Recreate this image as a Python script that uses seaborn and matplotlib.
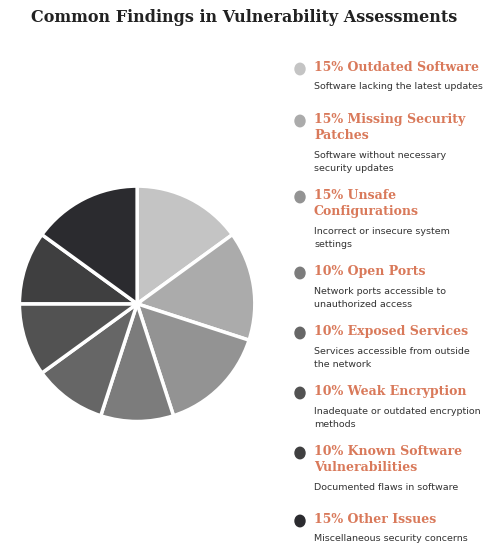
import matplotlib
matplotlib.use("Agg")
import matplotlib.pyplot as plt
import seaborn as sns

sns.set_theme(style="white")

categories = ["Outdated Software", "Missing Security\nPatches", "Unsafe\nConfigurations",
              "Open Ports", "Exposed Services", "Weak Encryption",
              "Known Software\nVulnerabilities", "Other Issues"]
shares = [15, 15, 15, 10, 10, 10, 10, 15]
descriptions = ["Software lacking the latest updates",
                "Software without necessary\nsecurity updates",
                "Incorrect or insecure system\nsettings",
                "Network ports accessible to\nunauthorized access",
                "Services accessible from outside\nthe network",
                "Inadequate or outdated encryption\nmethods",
                "Documented flaws in software",
                "Miscellaneous security concerns"]
colors = ["#c4c4c4", "#ababab", "#939393", "#7c7c7c", "#666666", "#525252", "#3f3f40", "#2b2b2f"]

fig = plt.figure(figsize=(4.88, 5.6), dpi=100)
fig.text(0.5, 0.968, "Common Findings in Vulnerability Assessments", ha="center", va="center",
         fontsize=11.5, fontweight="bold", family="DejaVu Serif", color="#222222")

ax = fig.add_axes([0.035, 0.243, 0.492, 0.429])
ax.pie(shares, colors=colors, startangle=90, counterclock=False, radius=1,
       wedgeprops=dict(edgecolor="white", linewidth=2.5))
ax.set_xlim(-1.02, 1.02)
ax.set_ylim(-1.02, 1.02)
ax.set_aspect("equal")

heading_y = [69, 121, 197, 273, 333, 393, 453, 521]
desc_y = [88, 157, 233, 293, 353, 413, 489, 540]
for cat, s, d, c, hy, dy in zip(categories, shares, descriptions, colors, heading_y, desc_y):
    fy = 1 - hy / 560
    fig.patches.append(plt.Circle((300 / 488, fy), 5 / 488, color=c, transform=fig.transFigure))
    fig.text(314 / 488, fy + 8 / 560, f"{s}% {cat}", ha="left", va="top",
             fontsize=9, fontweight="bold", family="DejaVu Serif", color="#d9795a",
             linespacing=1.3)
    fig.text(314 / 488, 1 - dy / 560 + 6 / 560, d, ha="left", va="top",
             fontsize=6.8, color="#333333", linespacing=1.55)

fig.savefig("out.png", dpi=100)
